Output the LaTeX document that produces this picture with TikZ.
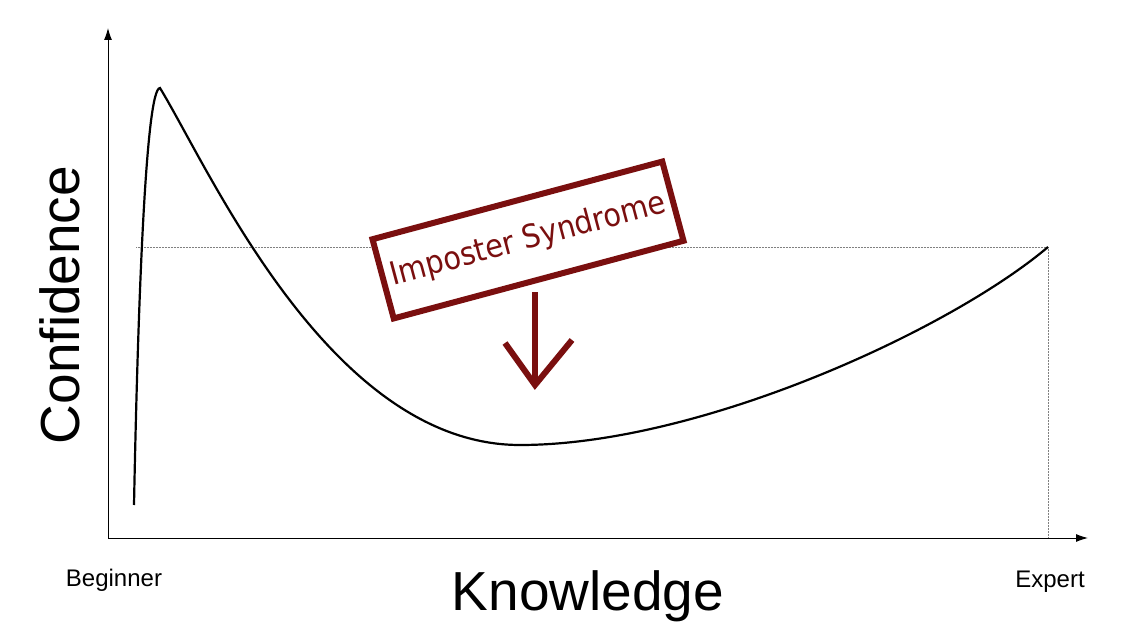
\documentclass[tikz,border=0pt]{standalone}
\usepackage{fontspec}
\setmainfont{Liberation Sans}
\newfontfamily\signfont{DejaVu Sans Condensed}
\definecolor{signred}{HTML}{7A0F0F}
\begin{document}
\begin{tikzpicture}[x=1pt,y=-1pt,
  axis/.style={line width=1pt,-{Latex[length=12pt,width=8pt]}},
  guide/.style={densely dotted,line width=0.5pt,gray},
  signbox/.style={draw=signred,line width=6pt,fill=white,minimum width=300pt,minimum height=82pt,inner sep=0pt,rotate=15,font=\signfont\fontsize{32}{32}\selectfont,text=signred},
  signarrow/.style={draw=signred,line width=6pt}]
\usetikzlibrary{arrows.meta}
\useasboundingbox (0,0) rectangle (1122,626);
\coordinate (O) at (108,538);
\coordinate (ytop) at (108,28);
\coordinate (xend) at (1088,538);
\draw[axis] (O) -- (ytop);
\draw[axis] (O) -- (xend);
\coordinate (gl) at (136,247);
\coordinate (gr) at (1048,247);
\coordinate (gb) at (1048,538);
\draw[guide] (gl) -- (gr) -- (gb);
\draw[line width=2.2pt] (134,505) .. controls (138,300) and (146,88) .. (160,88)
  .. controls (210,170) and (330,445) .. (520,445)
  .. controls (700,445) and (950,330) .. (1048,247);
\node[signbox] (sign) at (528,240) {Imposter Syndrome};
\coordinate (tip) at (535,385);
\coordinate (hl) at (505,343);
\coordinate (hr) at (572,340);
\draw[signarrow] (535,292) -- (tip);
\draw[signarrow,line join=miter] (hl) -- (tip) -- (hr);
\node[rotate=90,font=\fontsize{55}{55}\selectfont] (ylab) at (60,305) {Confidence};
\node[font=\fontsize{55}{55}\selectfont] (xlab) at (588,596) {Knowledge};
\node[font=\fontsize{24}{24}\selectfont] (beg) at (114,580) {Beginner};
\node[font=\fontsize{24}{24}\selectfont] (exp) at (1050,582) {Expert};
\end{tikzpicture}
\end{document}
